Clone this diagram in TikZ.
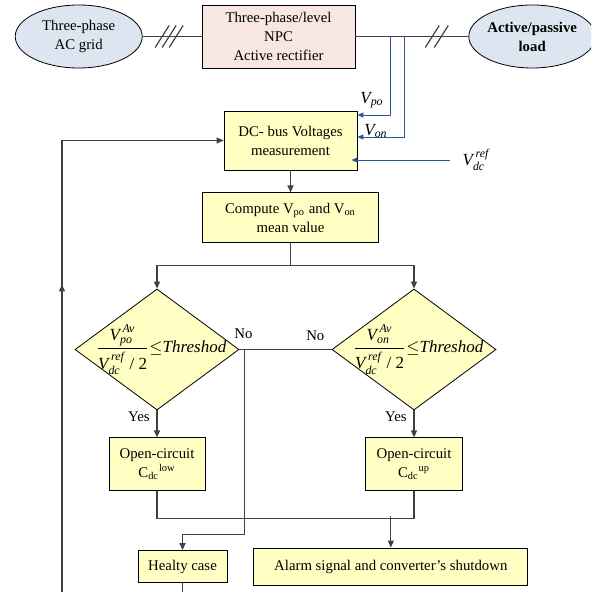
\documentclass[tikz,border=0pt]{standalone}
\usepackage{amsmath}
\usepackage{fontspec}
\setmainfont{Liberation Serif}
\usetikzlibrary{shapes.geometric, arrows.meta, positioning, calc}

\definecolor{boxyellow}{RGB}{255,255,196}
\definecolor{gridblue}{RGB}{221,230,240}
\definecolor{npcpink}{RGB}{247,230,226}
\definecolor{wiregray}{RGB}{64,64,64}
\definecolor{sigblue}{RGB}{47,85,151}

\begin{document}
\begin{tikzpicture}[
    x=0.5pt, y=-0.5pt,
    font=\fontsize{7.4}{9.5}\selectfont,
    block/.style={rectangle, draw, fill=boxyellow, align=center, inner sep=1pt},
    source/.style={ellipse, draw, fill=gridblue, align=center, minimum width=63.5pt, minimum height=31.5pt, inner sep=0pt},
    decision/.style={diamond, draw, fill=boxyellow, minimum width=82pt, minimum height=60.5pt, inner sep=0pt},
    formula/.style={font=\fontsize{8.5}{10}\selectfont, xshift=2pt},
    line/.style={draw=wiregray, line width=0.6pt},
    arrow/.style={line, -{Triangle[length=3.5pt, width=3pt]}},
    sig/.style={draw=sigblue, line width=0.45pt, -{Triangle[length=3pt, width=2.5pt]}},
]
    \useasboundingbox (0,0) rectangle (591,592);
    \clip (0,0) rectangle (591,592);

    % Row 1: grid, converter, load
    \node[rectangle, draw, fill=npcpink, align=center, minimum width=76.5pt, minimum height=31.5pt] (npc) at (278.5,36.5) {Three-phase/level\\NPC\\Active rectifier};
    \node[source, left=29.5pt of npc] (grid) {Three-phase\\AC grid};
    \node[source, right=56.5pt of npc, minimum width=61pt, font=\fontsize{7.4}{9.5}\selectfont\bfseries] (load) {Active/passive\\load};

    % Row 2: measurement and mean value
    \node[block, minimum width=66.5pt, minimum height=29.5pt] (dc) at (290.5,140.5) {DC- bus Voltages\\measurement};
    \node[block, below=11pt of dc, minimum width=88pt, minimum height=25pt] (compute) {Compute V\textsubscript{po} and V\textsubscript{on}\\mean value};

    % measured signals
    \node[font=\fontsize{8.5}{10}\selectfont] (vpo) at (372,100) {$\textit{V}_{\textit{po}}$};
    \node[font=\fontsize{8.5}{10}\selectfont] (von) at (376,131) {$\textit{V}_{\textit{on}}$};
    \node[font=\fontsize{8.5}{10}\selectfont] (vref) at (476,160) {$\textit{V}^{\,\textit{ref}}_{\textit{dc}}$};

    % Row 3: threshold tests
    \node[decision, label={[formula]center:$\dfrac{\textit{V}^{\,\rule[-1.5pt]{0pt}{1pt}\textit{Av}}_{\textit{po}}}{\rule{0pt}{9pt}\textit{V}^{\,\rule[-1.5pt]{0pt}{1pt}\textit{ref}}_{\textit{dc}}\;\textup{/ 2}}{\leq}\textit{Threshod}$}] (ld) at (157,349.5) {};
    \node[decision, label={[formula]center:$\dfrac{\textit{V}^{\,\rule[-1.5pt]{0pt}{1pt}\textit{Av}}_{\textit{on}}}{\rule{0pt}{9pt}\textit{V}^{\,\rule[-1.5pt]{0pt}{1pt}\textit{ref}}_{\textit{dc}}\;\textup{/ 2}}{\leq}\textit{Threshod}$}] (rd) at (414,349.5) {};

    % Row 4: faults
    \node[block, below=13.5pt of ld, minimum width=48pt, minimum height=26.5pt] (low) {Open-circuit\\C\textsubscript{dc}\textsuperscript{low}};
    \node[block, below=13.5pt of rd, minimum width=48.5pt, minimum height=26.5pt] (up) {Open-circuit\\C\textsubscript{dc}\textsuperscript{up}};

    % Row 5: outcomes
    \node[block, minimum width=44.5pt, minimum height=16pt] (healthy) at (182.5,566.5) {Healty case};
    \node[block, right=13pt of healthy, minimum width=137pt, minimum height=18.5pt] (alarm) {Alarm signal and converter’s shutdown};

    % Power lines
    \draw[line] (grid) -- coordinate[pos=0.45] (gs) (npc);
    \draw[line] (npc) -- coordinate[pos=0.72] (ls) (load);
    \foreach \d in {-7,0,7}
        \draw[line] ([shift={(\d-7,11)}]gs) -- ++(14,-22);
    \foreach \d in {-4.5,4.5}
        \draw[line] ([shift={(\d-7,11)}]ls) -- ++(14,-22);

    % Measurement lines
    \coordinate (tpo) at (390,37);
    \coordinate (ton) at (404,37);
    \draw[sig] (tpo) |- ([yshift=12.75pt]dc.east);
    \draw[sig] (ton) |- ([yshift=1.75pt]dc.east);
    \draw[sig] ([xshift=-3pt]vref.west) -- ([xshift=-3pt]vref.west -| dc.east);

    % Arrows
    \draw[arrow] (dc) -- (compute);
    \draw[line] (compute.south) -- ++(0,-11pt) coordinate (sp);
    \draw[arrow] (sp) -| (ld.north);
    \draw[arrow] (sp) -| (rd.north);
    \draw[line] (ld.east) -- node[pos=0, above, xshift=2pt, yshift=2pt] {No} node[pos=1, above left, yshift=1pt] {No} (rd.west);
    \coordinate (nj) at ([xshift=2.5pt]ld.east);
    \draw[arrow] (nj) |- ([yshift=8pt]healthy.north) -- (healthy.north);
    \draw[arrow] (ld.south) -- node[pos=0.25, left] {Yes} (low.north);
    \draw[arrow] (rd.south) -- node[pos=0.25, left] {Yes} (up.north);
    \draw[line] (low.south) -- ++(0,-13.5pt) -| (up.south);
    \draw[arrow] ([yshift=16pt]alarm.north) -- (alarm.north);

    % Feedback loop
    \coordinate (back) at (62,605);
    \draw[arrow] (healthy.south) |- (back) |- (dc.west);
    \draw[arrow] (back) -- ($(back)!0.69!(back |- dc.west)$);
\end{tikzpicture}
\end{document}
